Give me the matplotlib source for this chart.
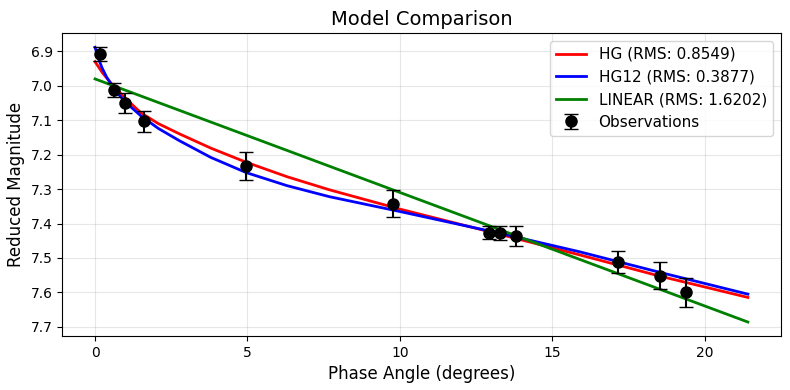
import numpy as np
import matplotlib
matplotlib.use('Agg')
from matplotlib import pyplot as plt

# observations (phase angle in deg, reduced magnitude, error)
obs_phase = [0.15, 0.61, 0.98, 1.60, 4.94, 9.77, 12.92, 13.30, 13.81, 17.16, 18.53, 19.39]
obs_mag = [6.907, 7.012, 7.050, 7.103, 7.233, 7.342, 7.426, 7.428, 7.436, 7.512, 7.551, 7.600]
obs_err = [0.020, 0.020, 0.029, 0.030, 0.040, 0.040, 0.020, 0.020, 0.029, 0.031, 0.039, 0.041]

# fitted model curves
hg_phase = [0.0, 0.25, 0.55, 0.98, 1.5, 2.08, 2.78, 3.8, 4.96, 6.3, 7.69, 10.0, 13.27, 15.9, 18.5, 21.42]
hg_mag = [6.930, 6.963, 6.995, 7.035, 7.078, 7.110, 7.140, 7.181, 7.222, 7.264, 7.302, 7.358, 7.431, 7.491, 7.552, 7.6145]

hg12_phase = [0.0, 0.1, 0.22, 0.38, 0.65, 0.98, 1.5, 2.08, 2.78, 3.8, 4.96, 6.3, 7.69, 10.0, 13.27, 15.9, 18.5, 21.42]
hg12_mag = [6.888, 6.918, 6.946, 6.975, 7.012, 7.046, 7.087, 7.124, 7.160, 7.208, 7.252, 7.290, 7.322, 7.365, 7.428, 7.482, 7.541, 7.605]

lin_phase = [0.0, 21.42]
lin_mag = [6.980, 7.686]

fig, ax = plt.subplots(figsize=(7.9, 3.9), dpi=100)
fig.subplots_adjust(left=0.079, right=0.988, top=0.915, bottom=0.139)

ax.plot(hg_phase, hg_mag, color='red', lw=2, label='HG (RMS: 0.8549)')
ax.plot(hg12_phase, hg12_mag, color='blue', lw=2, label='HG12 (RMS: 0.3877)')
ax.plot(lin_phase, lin_mag, color='green', lw=2, label='LINEAR (RMS: 1.6202)')
ax.errorbar(obs_phase, obs_mag, yerr=obs_err, fmt='ko', markersize=8, capsize=5,
            label='Observations')

ax.invert_yaxis()
ax.set_xlabel('Phase Angle (degrees)', fontsize=12)
ax.set_ylabel('Reduced Magnitude', fontsize=12)
ax.set_title('Model Comparison', fontsize=14)
ax.legend(fontsize=11)
ax.grid(True, alpha=0.3)

plt.savefig('out.png')
